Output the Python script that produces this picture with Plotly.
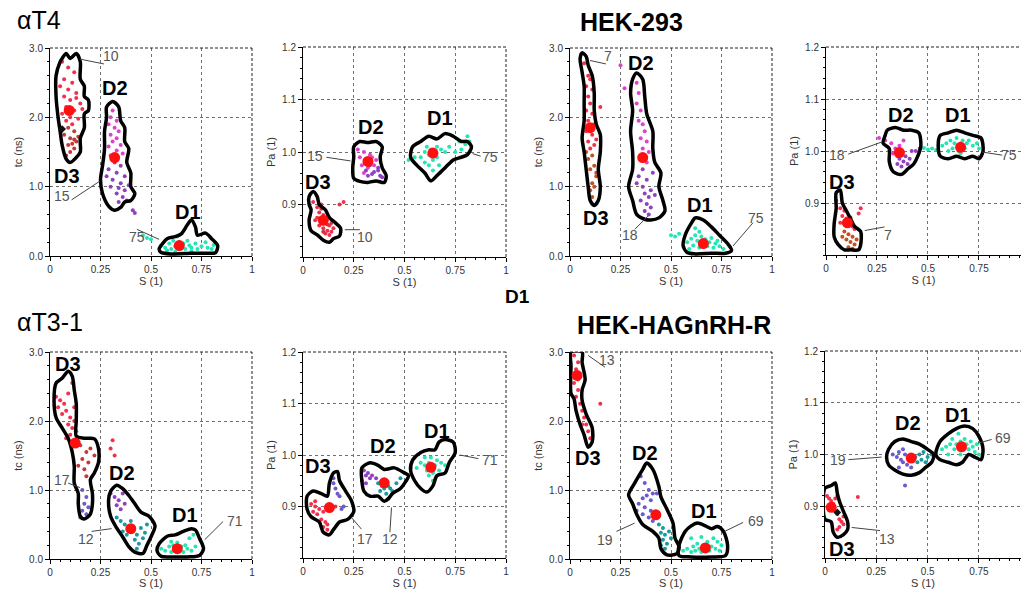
import plotly.graph_objects as go

W, H = 1021, 589

# ---------------- data ----------------
S_TICKS = [0, 0.25, 0.5, 0.75, 1]
S_LABELS = ["0", "0.25", "0.5", "0.75", "1"]
TC_TICKS = [0, 1, 2, 3]
TC_LABELS = ["0.0", "1.0", "2.0", "3.0"]
PA_TICKS = [0.9, 1.0, 1.1, 1.2]
PA_LABELS = ["0.9", "1.0", "1.1", "1.2"]

PANEL_TITLES = ["αT4", "HEK-293", "αT3-1", "HEK-HAGnRH-R"]
CLUSTER_NAMES = ["D1", "D2", "D3"]

# population counts (D1, D2, D3)
AT4_COUNTS = [75, 15, 10]
HEK293_COUNTS = [75, 18, 7]
AT31_COUNTS = [71, 12, 17]
HAG_COUNTS = [69, 19, 13]

# centroids (S, value) for D1, D2, D3
P1_CENTROIDS = [(0.64, 0.15), (0.32, 1.42), (0.095, 2.10)]
P2_CENTROIDS = [(0.64, 0.998), (0.32, 0.982), (0.10, 0.870)]
P3_CENTROIDS = [(0.66, 0.18), (0.36, 1.42), (0.10, 1.85)]
P4_CENTROIDS = [(0.66, 1.007), (0.36, 0.997), (0.105, 0.862)]
P5_CENTROIDS = [(0.63, 0.15), (0.40, 0.44), (0.125, 1.68)]
P6_CENTROIDS = [(0.63, 0.976), (0.40, 0.946), (0.13, 0.898)]
P7_CENTROIDS = [(0.67, 0.16), (0.425, 0.64), (0.035, 2.66)]
P8_CENTROIDS = [(0.665, 1.015), (0.42, 0.993), (0.03, 0.898)]

# ---- panel 1: alphaT4, tc vs S ----
P1_D3_OUT = [(0.06, 2.85), (0.08, 2.92), (0.10, 2.85), (0.13, 2.92), (0.15, 2.80), (0.15, 2.55), (0.17, 2.45),
             (0.17, 2.30), (0.19, 2.25), (0.19, 2.10), (0.17, 2.05), (0.17, 1.85), (0.15, 1.70), (0.15, 1.50),
             (0.13, 1.42), (0.10, 1.35), (0.08, 1.40), (0.06, 1.60), (0.05, 1.80), (0.04, 2.00), (0.03, 2.30),
             (0.03, 2.60), (0.05, 2.80)]
P1_D2_OUT = [(0.28, 2.15), (0.31, 2.23), (0.34, 2.15), (0.35, 1.95), (0.37, 1.85), (0.37, 1.65), (0.39, 1.55),
             (0.38, 1.35), (0.40, 1.20), (0.40, 1.00), (0.42, 0.90), (0.40, 0.80), (0.37, 0.78), (0.35, 0.70),
             (0.32, 0.66), (0.29, 0.72), (0.26, 0.90), (0.25, 1.10), (0.26, 1.30), (0.27, 1.55), (0.27, 1.80),
             (0.28, 2.00)]
P1_D1_OUT = [(0.55, 0.15), (0.58, 0.25), (0.62, 0.28), (0.65, 0.32), (0.68, 0.45), (0.70, 0.52), (0.72, 0.42),
             (0.73, 0.30), (0.77, 0.33), (0.80, 0.25), (0.83, 0.15), (0.82, 0.05), (0.76, 0.04), (0.70, 0.04),
             (0.60, 0.03), (0.55, 0.05), (0.54, 0.10)]
P1_D3_A = [(0.06, 2.80), (0.09, 2.72), (0.12, 2.65), (0.07, 2.55), (0.11, 2.50), (0.05, 2.45), (0.09, 2.40),
           (0.13, 2.35), (0.07, 2.30), (0.10, 2.25), (0.15, 2.20), (0.08, 2.15), (0.12, 2.10), (0.06, 2.05),
           (0.10, 2.00), (0.14, 1.98), (0.08, 1.95), (0.11, 1.90), (0.13, 2.28), (0.16, 2.12)]
P1_D3_B = [(0.09, 1.85), (0.12, 1.80), (0.07, 1.75), (0.10, 1.70), (0.13, 1.65), (0.09, 1.60), (0.12, 1.55),
           (0.11, 1.62), (0.10, 1.50), (0.08, 1.45), (0.14, 1.72), (0.12, 1.68)]
P1_D2_A = [(0.31, 2.10), (0.30, 2.00), (0.33, 1.95), (0.29, 1.90), (0.32, 1.85), (0.34, 1.80), (0.30, 1.75),
           (0.33, 1.70), (0.31, 1.65), (0.35, 1.60), (0.29, 1.58), (0.33, 1.52), (0.36, 1.48), (0.30, 1.45)]
P1_D2_B = [(0.32, 1.35), (0.35, 1.30), (0.29, 1.25), (0.33, 1.20), (0.37, 1.15), (0.31, 1.10), (0.35, 1.05),
           (0.30, 1.00), (0.34, 0.98), (0.37, 0.95), (0.33, 0.90), (0.36, 0.85), (0.38, 0.80), (0.34, 0.78),
           (0.39, 1.02), (0.28, 1.15), (0.41, 0.66), (0.42, 0.62)]
P1_D1_A = [(0.57, 0.12), (0.59, 0.18), (0.60, 0.10), (0.61, 0.22), (0.62, 0.14), (0.63, 0.28), (0.64, 0.20),
           (0.65, 0.12), (0.66, 0.18), (0.67, 0.10), (0.68, 0.22), (0.69, 0.15), (0.70, 0.12), (0.72, 0.18),
           (0.73, 0.10), (0.75, 0.14), (0.77, 0.20), (0.78, 0.12), (0.80, 0.10), (0.81, 0.16), (0.55, 0.15),
           (0.58, 0.08), (0.62, 0.06), (0.70, 0.07), (0.46, 0.30), (0.48, 0.26), (0.50, 0.24)]
P1_MARK = [(0.06, 1.83)]

# ---- panel 2: alphaT4, Pa vs S ----
P2_D3_OUT = [(0.03, 0.915), (0.05, 0.925), (0.07, 0.915), (0.08, 0.900), (0.11, 0.890), (0.13, 0.875),
             (0.16, 0.865), (0.185, 0.855), (0.18, 0.840), (0.15, 0.835), (0.13, 0.828), (0.10, 0.832),
             (0.07, 0.842), (0.04, 0.850), (0.03, 0.870), (0.04, 0.890), (0.03, 0.900)]
P2_D2_OUT = [(0.25, 1.010), (0.28, 1.020), (0.32, 1.018), (0.36, 1.020), (0.39, 1.010), (0.38, 0.990),
             (0.39, 0.970), (0.41, 0.955), (0.40, 0.942), (0.36, 0.945), (0.32, 0.942), (0.28, 0.944),
             (0.25, 0.950), (0.245, 0.970), (0.25, 0.990)]
P2_D1_OUT = [(0.54, 1.010), (0.58, 1.020), (0.62, 1.030), (0.66, 1.025), (0.70, 1.035), (0.74, 1.030),
             (0.78, 1.020), (0.81, 1.020), (0.83, 1.010), (0.81, 0.995), (0.78, 0.990), (0.74, 0.985),
             (0.70, 0.970), (0.66, 0.955), (0.63, 0.945), (0.60, 0.960), (0.56, 0.975), (0.53, 0.990)]
P2_D3_A = [(0.05, 0.905), (0.07, 0.895), (0.09, 0.900), (0.08, 0.885), (0.10, 0.880), (0.12, 0.875),
           (0.07, 0.875), (0.09, 0.870), (0.11, 0.865), (0.13, 0.860), (0.10, 0.855), (0.12, 0.850),
           (0.14, 0.848), (0.08, 0.860), (0.15, 0.855), (0.11, 0.845), (0.06, 0.870), (0.13, 0.842),
           (0.20, 0.905), (0.18, 0.900)]
P2_D3_B = [(0.12, 0.862), (0.14, 0.865), (0.10, 0.848), (0.09, 0.892)]
P2_D2_A = [(0.27, 1.005), (0.30, 1.000), (0.33, 0.995), (0.31, 0.985), (0.34, 0.990), (0.29, 0.975),
           (0.32, 0.970), (0.35, 0.975), (0.30, 0.960), (0.36, 0.985), (0.28, 0.990)]
P2_D2_B = [(0.33, 0.975), (0.31, 0.965), (0.35, 0.962), (0.37, 0.970), (0.39, 0.952), (0.32, 0.955),
           (0.37, 0.965), (0.34, 0.958), (0.38, 0.955)]
P2_D1_A = [(0.58, 0.990), (0.60, 1.000), (0.61, 1.010), (0.62, 0.995), (0.63, 1.005), (0.64, 0.985),
           (0.65, 1.000), (0.66, 1.010), (0.62, 0.975), (0.64, 0.965), (0.66, 0.990), (0.68, 1.005),
           (0.70, 1.000), (0.72, 1.010), (0.75, 1.000), (0.78, 1.005), (0.80, 1.015), (0.82, 1.020),
           (0.60, 0.980), (0.67, 0.975), (0.52, 0.985), (0.55, 0.990), (0.81, 1.030), (0.77, 1.020)]

# ---- panel 3: HEK-293, tc vs S ----
P3_D3_OUT = [(0.05, 2.85), (0.06, 2.93), (0.08, 2.88), (0.09, 2.75), (0.11, 2.60), (0.12, 2.35), (0.12, 2.10),
             (0.13, 1.90), (0.15, 1.75), (0.15, 1.50), (0.14, 1.25), (0.15, 1.00), (0.14, 0.80), (0.12, 0.73),
             (0.10, 0.80), (0.09, 1.00), (0.08, 1.25), (0.07, 1.50), (0.06, 1.70), (0.07, 1.95), (0.07, 2.20),
             (0.07, 2.45), (0.06, 2.65)]
P3_D2_OUT = [(0.31, 2.55), (0.33, 2.64), (0.36, 2.55), (0.37, 2.30), (0.38, 2.05), (0.41, 1.80), (0.41, 1.55),
             (0.42, 1.35), (0.45, 1.20), (0.44, 1.00), (0.46, 0.80), (0.47, 0.65), (0.44, 0.55), (0.40, 0.52),
             (0.37, 0.53), (0.33, 0.60), (0.31, 0.80), (0.29, 1.00), (0.31, 1.25), (0.31, 1.50), (0.30, 1.80),
             (0.31, 2.10), (0.30, 2.35)]
P3_D1_OUT = [(0.57, 0.30), (0.60, 0.47), (0.62, 0.55), (0.66, 0.52), (0.70, 0.42), (0.74, 0.30), (0.78, 0.18),
             (0.80, 0.08), (0.77, 0.04), (0.70, 0.04), (0.62, 0.03), (0.58, 0.05), (0.56, 0.15)]
P3_D3_A = [(0.07, 2.78), (0.09, 2.60), (0.10, 2.55), (0.08, 2.45), (0.11, 2.40), (0.09, 2.30), (0.10, 2.20),
           (0.08, 2.10), (0.11, 2.05), (0.09, 1.95), (0.12, 1.90), (0.08, 1.80), (0.11, 1.75), (0.13, 1.68),
           (0.09, 1.65), (0.12, 1.60), (0.10, 1.55), (0.15, 2.15)]
P3_D3_B = [(0.11, 1.45), (0.09, 1.40), (0.12, 1.30), (0.10, 1.25), (0.13, 1.15), (0.11, 1.05), (0.12, 1.00),
           (0.10, 0.95), (0.11, 0.85), (0.13, 1.20), (0.08, 1.50)]
P3_D2_A = [(0.25, 2.75), (0.27, 2.42), (0.33, 2.50), (0.34, 2.35), (0.33, 2.20), (0.35, 2.10), (0.34, 1.95),
           (0.36, 1.90), (0.37, 1.80), (0.35, 1.70), (0.38, 1.65), (0.36, 1.55), (0.39, 1.50), (0.35, 1.45),
           (0.38, 1.35)]
P3_D2_B = [(0.36, 1.25), (0.34, 1.15), (0.38, 1.10), (0.36, 1.00), (0.40, 0.95), (0.37, 0.90), (0.39, 0.85),
           (0.35, 0.80), (0.38, 0.75), (0.40, 0.70), (0.37, 0.65), (0.39, 0.60), (0.42, 0.88), (0.33, 1.05),
           (0.41, 1.20)]
P3_D1_A = [(0.58, 0.20), (0.60, 0.25), (0.61, 0.15), (0.62, 0.30), (0.63, 0.22), (0.64, 0.12), (0.65, 0.28),
           (0.66, 0.18), (0.67, 0.24), (0.68, 0.14), (0.69, 0.20), (0.70, 0.26), (0.71, 0.12), (0.72, 0.18),
           (0.74, 0.14), (0.76, 0.10), (0.62, 0.40), (0.64, 0.35), (0.59, 0.10), (0.73, 0.22), (0.50, 0.30),
           (0.52, 0.28), (0.54, 0.32)]

# ---- panel 4: HEK-293, Pa vs S ----
P4_D3_OUT = [(0.05, 0.920), (0.07, 0.925), (0.08, 0.900), (0.10, 0.885), (0.12, 0.870), (0.14, 0.855),
             (0.17, 0.845), (0.17, 0.820), (0.16, 0.810), (0.12, 0.810), (0.09, 0.810), (0.06, 0.820),
             (0.04, 0.835), (0.04, 0.860), (0.05, 0.890)]
P4_D2_OUT = [(0.30, 1.040), (0.34, 1.045), (0.38, 1.040), (0.42, 1.040), (0.455, 1.035), (0.465, 1.010),
             (0.45, 0.990), (0.43, 0.975), (0.40, 0.965), (0.37, 0.955), (0.33, 0.960), (0.31, 0.980),
             (0.31, 1.005), (0.28, 1.015), (0.29, 1.030)]
P4_D1_OUT = [(0.56, 1.030), (0.60, 1.035), (0.64, 1.040), (0.68, 1.035), (0.72, 1.030), (0.76, 1.025),
             (0.77, 1.000), (0.75, 0.985), (0.72, 0.990), (0.68, 0.985), (0.64, 0.990), (0.60, 0.985),
             (0.56, 0.990), (0.55, 1.010)]
P4_D3_A = [(0.05, 0.905), (0.07, 0.890), (0.09, 0.885), (0.08, 0.875), (0.10, 0.870), (0.12, 0.872),
           (0.09, 0.860), (0.11, 0.865), (0.13, 0.855), (0.07, 0.862), (0.14, 0.850), (0.10, 0.858),
           (0.17, 0.890), (0.16, 0.880)]
P4_D3_B = [(0.09, 0.845), (0.11, 0.840), (0.13, 0.835), (0.10, 0.830), (0.12, 0.825), (0.14, 0.820),
           (0.11, 0.815), (0.13, 0.812), (0.08, 0.835), (0.15, 0.830)]
P4_D2_A = [(0.26, 1.025), (0.29, 1.020), (0.32, 1.015), (0.34, 1.005), (0.36, 1.010), (0.38, 1.020),
           (0.33, 0.995), (0.35, 0.990), (0.37, 1.000), (0.31, 1.000)]
P4_D2_B = [(0.36, 0.985), (0.38, 0.980), (0.40, 0.975), (0.37, 0.970), (0.39, 0.990), (0.41, 0.985),
           (0.35, 0.975), (0.42, 1.000), (0.44, 1.000), (0.46, 1.005)]
P4_D1_A = [(0.57, 1.010), (0.59, 1.015), (0.61, 1.020), (0.62, 1.005), (0.63, 1.015), (0.64, 1.025),
           (0.65, 1.000), (0.66, 1.015), (0.67, 1.020), (0.68, 1.005), (0.69, 1.015), (0.70, 1.020),
           (0.72, 1.010), (0.74, 1.015), (0.75, 1.005), (0.60, 1.000), (0.66, 0.995), (0.50, 1.003),
           (0.52, 1.005), (0.54, 1.002), (0.48, 1.006)]

# ---- panel 5: alphaT3-1, tc vs S ----
P5_D3_OUT = [(0.03, 2.55), (0.06, 2.62), (0.09, 2.72), (0.11, 2.65), (0.12, 2.45), (0.13, 2.25), (0.13, 2.00),
             (0.13, 1.78), (0.17, 1.75), (0.22, 1.74), (0.24, 1.60), (0.24, 1.40), (0.22, 1.25), (0.20, 1.15),
             (0.21, 0.95), (0.21, 0.80), (0.20, 0.65), (0.17, 0.58), (0.15, 0.62), (0.14, 0.80), (0.14, 0.95),
             (0.12, 1.10), (0.12, 1.35), (0.11, 1.55), (0.09, 1.75), (0.06, 1.90), (0.03, 2.05), (0.02, 2.30)]
P5_D2_OUT = [(0.29, 0.85), (0.30, 0.98), (0.33, 1.07), (0.36, 1.02), (0.39, 0.92), (0.42, 0.80), (0.45, 0.68),
             (0.49, 0.62), (0.52, 0.48), (0.50, 0.32), (0.48, 0.20), (0.46, 0.08), (0.42, 0.10), (0.39, 0.18),
             (0.36, 0.32), (0.33, 0.45), (0.30, 0.62)]
P5_D1_OUT = [(0.54, 0.22), (0.58, 0.33), (0.62, 0.35), (0.66, 0.40), (0.70, 0.44), (0.72, 0.42), (0.74, 0.30),
             (0.76, 0.15), (0.74, 0.05), (0.68, 0.03), (0.60, 0.03), (0.55, 0.04), (0.53, 0.12)]
P5_D3_A = [(0.03, 2.35), (0.05, 2.30), (0.07, 2.25), (0.04, 2.20), (0.09, 2.40), (0.11, 2.55), (0.08, 2.15),
           (0.10, 2.05), (0.06, 2.10), (0.12, 2.00), (0.09, 1.95), (0.11, 1.90), (0.13, 1.85), (0.10, 1.80),
           (0.08, 1.75), (0.12, 2.20), (0.30, 1.60), (0.31, 1.72), (0.32, 1.50)]
P5_D3_B = [(0.15, 1.65), (0.18, 1.55), (0.16, 1.45), (0.19, 1.40), (0.14, 1.35), (0.17, 1.30), (0.20, 1.60),
           (0.22, 1.50), (0.18, 1.20)]
P5_D3_C = [(0.16, 1.00), (0.18, 0.90), (0.17, 0.80), (0.19, 0.75), (0.16, 0.70), (0.18, 0.65), (0.15, 0.60)]
P5_D2_A = [(0.30, 0.95), (0.32, 0.90), (0.34, 0.85), (0.36, 0.95), (0.33, 0.78), (0.35, 0.72), (0.37, 0.80)]
P5_D2_B = [(0.33, 0.60), (0.35, 0.55), (0.37, 0.50), (0.39, 0.45), (0.41, 0.40), (0.43, 0.35), (0.38, 0.35),
           (0.42, 0.28), (0.44, 0.22), (0.46, 0.30), (0.40, 0.55), (0.45, 0.45), (0.47, 0.38), (0.36, 0.40),
           (0.43, 0.15), (0.48, 0.50)]
P5_D1_A = [(0.57, 0.12), (0.59, 0.18), (0.60, 0.10), (0.61, 0.20), (0.62, 0.14), (0.63, 0.24), (0.64, 0.12),
           (0.65, 0.18), (0.66, 0.10), (0.67, 0.20), (0.68, 0.15), (0.70, 0.12), (0.72, 0.18), (0.60, 0.25),
           (0.55, 0.15), (0.69, 0.30), (0.71, 0.35)]

# ---- panel 6: alphaT3-1, Pa vs S ----
P6_D3_OUT = [(0.02, 0.920), (0.05, 0.930), (0.09, 0.925), (0.12, 0.920), (0.13, 0.945), (0.15, 0.965),
             (0.17, 0.968), (0.18, 0.950), (0.21, 0.930), (0.24, 0.910), (0.25, 0.890), (0.22, 0.875),
             (0.18, 0.870), (0.15, 0.855), (0.13, 0.845), (0.10, 0.850), (0.08, 0.870), (0.04, 0.880),
             (0.02, 0.895)]
P6_D2_OUT = [(0.29, 0.975), (0.33, 0.985), (0.37, 0.980), (0.40, 0.972), (0.45, 0.975), (0.50, 0.965),
             (0.52, 0.960), (0.50, 0.945), (0.48, 0.935), (0.44, 0.925), (0.42, 0.915), (0.40, 0.910),
             (0.37, 0.920), (0.33, 0.920), (0.30, 0.930), (0.29, 0.950)]
P6_D1_OUT = [(0.54, 0.990), (0.58, 1.005), (0.62, 1.010), (0.65, 1.010), (0.67, 1.025), (0.70, 1.030),
             (0.74, 1.025), (0.75, 1.005), (0.72, 0.985), (0.70, 0.965), (0.66, 0.960), (0.64, 0.940),
             (0.61, 0.928), (0.58, 0.935), (0.55, 0.950), (0.53, 0.970)]
P6_D3_A = [(0.04, 0.905), (0.06, 0.900), (0.08, 0.895), (0.05, 0.890), (0.07, 0.885), (0.10, 0.890),
           (0.09, 0.875), (0.11, 0.870), (0.12, 0.865), (0.10, 0.860), (0.12, 0.855), (0.14, 0.895),
           (0.16, 0.900), (0.06, 0.910)]
P6_D3_B = [(0.19, 0.895), (0.20, 0.900), (0.15, 0.945), (0.16, 0.935), (0.17, 0.925), (0.18, 0.920),
           (0.15, 0.955)]
P6_D2_A = [(0.30, 0.970), (0.31, 0.960), (0.32, 0.965), (0.33, 0.955), (0.34, 0.960), (0.29, 0.950),
           (0.31, 0.945), (0.36, 0.955)]
P6_D2_B = [(0.37, 0.945), (0.39, 0.940), (0.40, 0.935), (0.42, 0.940), (0.38, 0.930), (0.41, 0.925),
           (0.43, 0.935), (0.44, 0.930), (0.42, 0.915), (0.46, 0.945), (0.48, 0.955), (0.50, 0.965)]
P6_D1_A = [(0.56, 0.975), (0.58, 0.985), (0.60, 0.980), (0.61, 0.970), (0.62, 0.985), (0.63, 0.975),
           (0.64, 0.965), (0.62, 0.960), (0.65, 0.980), (0.66, 0.990), (0.68, 0.985), (0.70, 0.980),
           (0.60, 0.995), (0.63, 0.995), (0.64, 0.950), (0.67, 0.970)]

# ---- panel 7: HEK-HAGnRH-R, tc vs S ----
P7_D3_OUT = [(0.005, 3.00), (0.06, 3.00), (0.06, 2.85), (0.075, 2.60), (0.06, 2.45), (0.06, 2.30), (0.08, 2.10),
             (0.11, 1.90), (0.11, 1.70), (0.09, 1.62), (0.07, 1.80), (0.05, 1.95), (0.03, 2.15), (0.02, 2.32),
             (0.005, 2.40), (0.005, 2.80)]
P7_D2_OUT = [(0.29, 0.93), (0.32, 1.10), (0.36, 1.30), (0.38, 1.39), (0.41, 1.30), (0.44, 1.05), (0.45, 0.90),
             (0.48, 0.72), (0.51, 0.52), (0.52, 0.30), (0.54, 0.18), (0.53, 0.08), (0.48, 0.06), (0.45, 0.15),
             (0.44, 0.30), (0.41, 0.40), (0.36, 0.50), (0.33, 0.65), (0.31, 0.80)]
P7_D1_OUT = [(0.54, 0.20), (0.57, 0.40), (0.60, 0.48), (0.63, 0.52), (0.67, 0.48), (0.70, 0.44), (0.73, 0.47),
             (0.76, 0.40), (0.78, 0.20), (0.77, 0.05), (0.70, 0.03), (0.60, 0.03), (0.54, 0.05)]
P7_D3_A = [(0.02, 2.95), (0.04, 2.85), (0.03, 2.75), (0.05, 2.65), (0.02, 2.55), (0.04, 2.45), (0.03, 2.35),
           (0.05, 2.25), (0.06, 2.15), (0.07, 2.05), (0.08, 1.95), (0.09, 1.85), (0.10, 1.75), (0.06, 1.95),
           (0.15, 2.25), (0.04, 2.60)]
P7_D2_A = [(0.35, 1.20), (0.37, 1.10), (0.39, 1.00), (0.41, 0.95), (0.38, 0.92), (0.36, 0.88), (0.40, 0.85),
           (0.34, 0.80), (0.37, 0.75), (0.40, 0.70), (0.36, 0.65), (0.39, 0.60), (0.41, 0.55), (0.33, 0.70),
           (0.43, 0.95)]
P7_D2_B = [(0.44, 0.50), (0.46, 0.45), (0.45, 0.38), (0.47, 0.35), (0.46, 0.28), (0.48, 0.22), (0.47, 0.15),
           (0.49, 0.40), (0.50, 0.30), (0.45, 0.20)]
P7_D1_A = [(0.56, 0.12), (0.58, 0.15), (0.60, 0.10), (0.61, 0.18), (0.62, 0.12), (0.63, 0.22), (0.64, 0.15),
           (0.65, 0.10), (0.66, 0.20), (0.67, 0.14), (0.68, 0.25), (0.69, 0.12), (0.70, 0.18), (0.71, 0.30),
           (0.72, 0.15), (0.73, 0.25), (0.74, 0.12), (0.75, 0.20), (0.60, 0.30), (0.65, 0.32)]

# ---- panel 8: HEK-HAGnRH-R, Pa vs S ----
P8_D3_OUT = [(0.0, 0.935), (0.03, 0.940), (0.05, 0.945), (0.06, 0.925), (0.07, 0.910), (0.09, 0.890),
             (0.11, 0.870), (0.11, 0.855), (0.09, 0.845), (0.06, 0.840), (0.04, 0.850), (0.03, 0.870),
             (0.0, 0.875)]
P8_D2_OUT = [(0.31, 1.010), (0.34, 1.025), (0.38, 1.030), (0.42, 1.025), (0.46, 1.020), (0.50, 1.010),
             (0.53, 1.000), (0.52, 0.985), (0.49, 0.975), (0.46, 0.965), (0.42, 0.960), (0.38, 0.962),
             (0.34, 0.970), (0.31, 0.980), (0.30, 0.995)]
P8_D1_OUT = [(0.54, 1.000), (0.56, 1.025), (0.60, 1.040), (0.64, 1.050), (0.68, 1.055), (0.72, 1.050),
             (0.75, 1.035), (0.77, 1.010), (0.76, 0.990), (0.73, 0.995), (0.70, 1.000), (0.67, 0.985),
             (0.64, 0.980), (0.60, 0.985), (0.56, 0.990)]
P8_D3_A = [(0.01, 0.920), (0.02, 0.915), (0.03, 0.910), (0.04, 0.905), (0.02, 0.900), (0.05, 0.915),
           (0.06, 0.920), (0.04, 0.895), (0.06, 0.885), (0.07, 0.875), (0.08, 0.870), (0.09, 0.865),
           (0.07, 0.860), (0.06, 0.855), (0.16, 0.918), (0.09, 0.880)]
P8_D2_A = [(0.33, 1.000), (0.35, 0.995), (0.36, 1.005), (0.37, 0.990), (0.38, 0.985), (0.39, 1.000),
           (0.40, 0.980), (0.41, 0.995), (0.42, 0.975), (0.38, 1.010), (0.36, 0.975), (0.39, 0.940)]
P8_D2_B = [(0.44, 0.995), (0.46, 1.000), (0.47, 0.990), (0.48, 1.005), (0.50, 0.995), (0.45, 0.985),
           (0.49, 0.985), (0.52, 1.000)]
P8_D1_A = [(0.57, 1.010), (0.59, 1.015), (0.61, 1.020), (0.62, 1.030), (0.63, 1.010), (0.64, 1.020),
           (0.65, 1.040), (0.66, 1.025), (0.67, 1.015), (0.68, 1.030), (0.69, 1.020), (0.70, 1.010),
           (0.71, 1.025), (0.72, 1.015), (0.73, 1.005), (0.74, 1.020), (0.60, 1.000), (0.66, 1.000),
           (0.75, 1.000)]
P8_MARK = [(0.06, 0.888)]

# ---------------- styles / layout ----------------
RED = "#f2304c"
DARKRED = "#c43a3a"
ORANGE = "#c8501e"
MAGENTA = "#e040d0"
PURPLE = "#9040c0"
BLUEP = "#6a5acd"
TEAL = "#1a9aa0"
CYAN = "#22e6b4"
FONT = "Arial, Liberation Sans, sans-serif"

# pixel boxes (left, top, right, bottom) and x-range max
BOXES = [(50, 48, 252, 256), (303, 47, 506, 257), (570, 48, 772, 256), (826, 47, 1021, 255),
         (50, 352, 252, 559), (303, 352, 506, 558), (570, 352, 772, 559), (825, 351, 1021, 558)]
XMAX = [1.0, 1.0, 1.0, 0.956, 1.0, 1.0, 1.0, 0.955]
KIND = ["tc", "pa", "tc", "pa", "tc", "pa", "tc", "pa"]

# cluster drawing config per panel: (outline, [(points, color)], D-label pos, num pos, leader line)
PANELS = [
    dict(counts=AT4_COUNTS, cent=P1_CENTROIDS, mark=P1_MARK, cl=[
        (P1_D1_OUT, [(P1_D1_A, CYAN)], (0.684, 0.64), (0.43, 0.27), (0.43, 0.385, 0.54, 0.24)),
        (P1_D2_OUT, [(P1_D2_A, MAGENTA), (P1_D2_B, PURPLE)], (0.32, 2.42), (0.058, 0.87), (0.107, 0.81, 0.247, 1.08)),
        (P1_D3_OUT, [(P1_D3_A, RED), (P1_D3_B, DARKRED)], (0.082, 1.15), (0.30, 2.89), (0.148, 2.84, 0.267, 2.77)),
    ]),
    dict(counts=AT4_COUNTS, cent=P2_CENTROIDS, mark=[], cl=[
        (P2_D1_OUT, [(P2_D1_A, CYAN)], (0.674, 1.064), (0.92, 0.991), (0.835, 0.997, 0.875, 0.992)),
        (P2_D2_OUT, [(P2_D2_A, MAGENTA), (P2_D2_B, PURPLE)], (0.337, 1.048), (0.058, 0.992), (0.115, 0.99, 0.234, 0.983)),
        (P2_D3_OUT, [(P2_D3_A, RED), (P2_D3_B, DARKRED)], (0.074, 0.943), (0.304, 0.838), (0.206, 0.852, 0.28, 0.852)),
    ]),
    dict(counts=HEK293_COUNTS, cent=P3_CENTROIDS, mark=[], cl=[
        (P3_D1_OUT, [(P3_D1_A, CYAN)], (0.642, 0.737), (0.923, 0.544), (0.807, 0.144, 0.906, 0.48)),
        (P3_D2_OUT, [(P3_D2_A, MAGENTA), (P3_D2_B, PURPLE)], (0.349, 2.78), (0.297, 0.30), (0.321, 0.385, 0.387, 0.578)),
        (P3_D3_OUT, [(P3_D3_A, RED), (P3_D3_B, ORANGE)], (0.128, 0.544), (0.19, 2.89), (0.099, 2.82, 0.178, 2.77)),
    ]),
    dict(counts=HEK293_COUNTS, cent=P4_CENTROIDS, mark=[], cl=[
        (P4_D1_OUT, [(P4_D1_A, CYAN)], (0.649, 1.069), (0.896, 0.992), (0.766, 0.998, 0.864, 0.992)),
        (P4_D2_OUT, [(P4_D2_A, MAGENTA), (P4_D2_B, PURPLE)], (0.368, 1.069), (0.052, 0.992), (0.109, 0.994, 0.271, 1.017)),
        (P4_D3_OUT, [(P4_D3_A, RED), (P4_D3_B, ORANGE)], (0.076, 0.94), (0.304, 0.838), (0.19, 0.847, 0.287, 0.854)),
    ]),
    dict(counts=AT31_COUNTS, cent=P5_CENTROIDS, mark=[], cl=[
        (P5_D1_OUT, [(P5_D1_A, CYAN)], (0.667, 0.64), (0.914, 0.554), (0.766, 0.28, 0.857, 0.544)),
        (P5_D2_OUT, [(P5_D2_A, PURPLE), (P5_D2_B, TEAL)], (0.354, 1.24), (0.178, 0.294), (0.206, 0.40, 0.305, 0.44)),
        (P5_D3_OUT, [(P5_D3_A, RED), (P5_D3_B, DARKRED), (P5_D3_C, BLUEP)], (0.09, 2.83), (0.058, 1.146), (0.09, 1.10, 0.148, 1.035)),
    ]),
    dict(counts=AT31_COUNTS, cent=P6_CENTROIDS, mark=[], cl=[
        (P6_D1_OUT, [(P6_D1_A, CYAN)], (0.658, 1.046), (0.921, 0.991), (0.773, 1.0, 0.864, 0.993)),
        (P6_D2_OUT, [(P6_D2_A, PURPLE), (P6_D2_B, TEAL)], (0.395, 1.017), (0.428, 0.837), (0.436, 0.898, 0.428, 0.85)),
        (P6_D3_OUT, [(P6_D3_A, RED), (P6_D3_B, BLUEP)], (0.074, 0.978), (0.304, 0.837), (0.238, 0.879, 0.288, 0.856)),
    ]),
    dict(counts=HAG_COUNTS, cent=P7_CENTROIDS, mark=[], cl=[
        (P7_D1_OUT, [(P7_D1_A, CYAN)], (0.664, 0.70), (0.922, 0.554), (0.766, 0.40, 0.857, 0.53)),
        (P7_D2_OUT, [(P7_D2_A, BLUEP), (P7_D2_B, TEAL)], (0.37, 1.53), (0.173, 0.28), (0.23, 0.40, 0.32, 0.52)),
        (P7_D3_OUT, [(P7_D3_A, RED)], (0.09, 1.46), (0.185, 2.88), (0.09, 2.95, 0.173, 2.78)),
    ]),
    dict(counts=HAG_COUNTS, cent=P8_CENTROIDS, mark=P8_MARK, cl=[
        (P8_D1_OUT, [(P8_D1_A, CYAN)], (0.649, 1.077), (0.868, 1.031), (0.747, 1.022, 0.812, 1.029)),
        (P8_D2_OUT, [(P8_D2_A, BLUEP), (P8_D2_B, TEAL)], (0.406, 1.061), (0.065, 0.99), (0.114, 0.99, 0.276, 0.995)),
        (P8_D3_OUT, [(P8_D3_A, RED)], (0.081, 0.817), (0.30, 0.836), (0.13, 0.859, 0.268, 0.853)),
    ]),
]

fig = go.Figure()
shapes = []
annotations = []
layout = {}

for i, (panel, box, xmax, kind) in enumerate(zip(PANELS, BOXES, XMAX, KIND), start=1):
    sfx = "" if i == 1 else str(i)
    xr, yr = "x" + sfx, "y" + sfx
    l, t, r, b = box
    tick_font = dict(family=FONT, size=10, color="#333")
    grid_dash = "3px,3px"
    layout["xaxis" + sfx] = dict(
        domain=[l / W, r / W], range=[0, xmax], anchor=yr, automargin=False,
        tickmode="array", tickvals=S_TICKS, ticktext=S_LABELS,
        ticks="outside", ticklen=4, tickcolor="black",
        showline=True, linecolor="black", linewidth=1, zeroline=False,
        showgrid=True, gridcolor="#707070", griddash=grid_dash, gridwidth=1,
        tickfont=tick_font, fixedrange=True,
        title=dict(text="S (1)", font=dict(family=FONT, size=11, color="#333"), standoff=2),
        minor=dict(tickmode="linear", tick0=0, dtick=0.05, ticks="outside", ticklen=2,
                   tickcolor="black", showgrid=False),
    )
    if kind == "tc":
        yrange, yticks, ylabels, ytitle, mdt, t0 = [0, 3], TC_TICKS, TC_LABELS, "tc (ns)", 0.2, 0
    else:
        yrange, yticks, ylabels, ytitle, mdt, t0 = [0.8, 1.2], PA_TICKS, PA_LABELS, "Pa (1)", 0.02, 0.8
    layout["yaxis" + sfx] = dict(
        domain=[1 - b / H, 1 - t / H], range=yrange, anchor=xr, automargin=False,
        tickmode="array", tickvals=yticks, ticktext=ylabels,
        ticks="outside", ticklen=4, tickcolor="black",
        showline=True, linecolor="black", linewidth=1, zeroline=False,
        showgrid=True, gridcolor="#707070", griddash=grid_dash, gridwidth=1,
        tickfont=tick_font, fixedrange=True,
        title=dict(text=ytitle, font=dict(family=FONT, size=11, color="#333"), standoff=4),
        minor=dict(tickmode="linear", tick0=t0, dtick=mdt, ticks="outside", ticklen=2,
                   tickcolor="black", showgrid=False),
    )
    # dashed top / right frame
    shapes.append(dict(type="line", xref=xr + " domain", yref=yr + " domain", x0=0, x1=1, y0=1, y1=1,
                       line=dict(color="#222", width=1, dash="3px,2px")))
    if xmax >= 1:
        shapes.append(dict(type="line", xref=xr + " domain", yref=yr + " domain", x0=1, x1=1, y0=0, y1=1,
                           line=dict(color="#222", width=1, dash="3px,2px")))

    for (outline, groups, dpos, npos, lead), name, cnt in zip(panel["cl"], CLUSTER_NAMES, panel["counts"]):
        for pts, col in groups:
            fig.add_trace(go.Scatter(x=[p[0] for p in pts], y=[p[1] for p in pts], xaxis=xr, yaxis=yr,
                                     mode="markers", marker=dict(size=4, color=col), showlegend=False,
                                     hoverinfo="skip"))
        closed = outline + [outline[0]]
        fig.add_trace(go.Scatter(x=[p[0] for p in closed], y=[p[1] for p in closed], xaxis=xr, yaxis=yr,
                                 mode="lines", line=dict(color="black", width=3.5, shape="spline", smoothing=0.8),
                                 showlegend=False, hoverinfo="skip"))
        annotations.append(dict(x=dpos[0], y=dpos[1], xref=xr, yref=yr, text="<b>%s</b>" % name,
                                showarrow=False, font=dict(family=FONT, size=20, color="black")))
        annotations.append(dict(x=npos[0], y=npos[1], xref=xr, yref=yr, text=str(cnt),
                                showarrow=False, font=dict(family=FONT, size=14, color="#555")))
        shapes.append(dict(type="line", xref=xr, yref=yr, x0=lead[0], y0=lead[1], x1=lead[2], y1=lead[3],
                           line=dict(color="#444", width=1)))

    cx = [c[0] for c in panel["cent"]]
    cy = [c[1] for c in panel["cent"]]
    fig.add_trace(go.Scatter(x=cx, y=cy, xaxis=xr, yaxis=yr, mode="markers",
                             marker=dict(size=11, color="#ff1010"), showlegend=False, hoverinfo="skip"))
    if panel["mark"]:
        fig.add_trace(go.Scatter(x=[m[0] for m in panel["mark"]], y=[m[1] for m in panel["mark"]],
                                 xaxis=xr, yaxis=yr, mode="markers",
                                 marker=dict(size=6, color="#111", symbol="diamond"),
                                 showlegend=False, hoverinfo="skip"))

# panel titles
title_pos = [(15, 20, False), (578, 22, True), (15, 322, False), (575, 325, True)]
for txt, (px, py, bold) in zip(PANEL_TITLES, title_pos):
    annotations.append(dict(x=px / W, y=1 - py / H, xref="paper", yref="paper", xanchor="left", yanchor="middle",
                            text=("<b>%s</b>" % txt) if bold else txt, showarrow=False,
                            font=dict(family=FONT, size=25, color="black")))
annotations.append(dict(x=517 / W, y=1 - 296 / H, xref="paper", yref="paper", text="<b>D1</b>",
                        showarrow=False, font=dict(family=FONT, size=19, color="black")))

fig.update_layout(width=W, height=H, margin=dict(l=0, r=0, t=0, b=0, autoexpand=False), autosize=False,
                  paper_bgcolor="white", plot_bgcolor="white", shapes=shapes, annotations=annotations,
                  **layout)

fig.write_html("out.html", config={"displayModeBar": False, "staticPlot": True},
               post_script="document.body.style.margin='0';document.body.style.padding='0';"
                           "document.body.style.overflow='hidden';")
